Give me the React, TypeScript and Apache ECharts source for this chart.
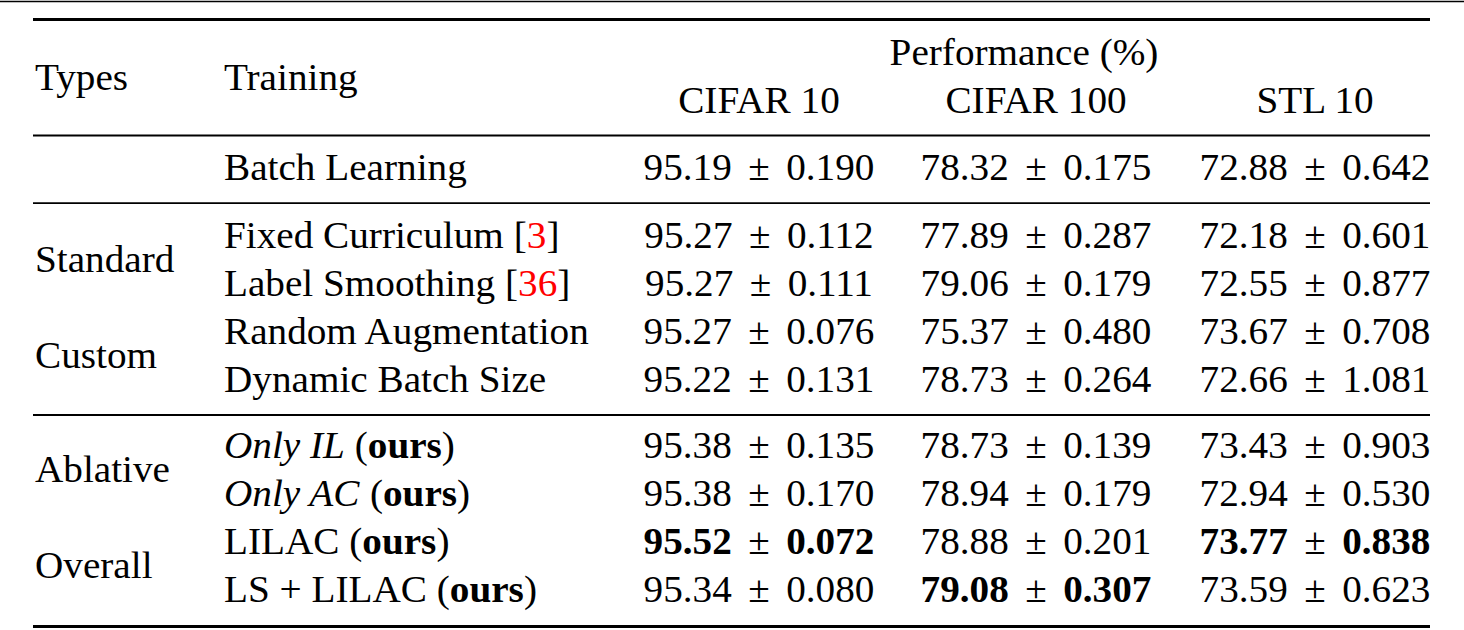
import React, { useEffect, useRef } from 'react';
import * as echarts from 'echarts';

const superHeader = 'Performance (%)';
const typeHeader = 'Types';
const trainingHeader = 'Training';
const datasets = ['CIFAR 10', 'CIFAR 100', 'STL 10'];
const groupLabels = ['Standard', 'Custom', 'Ablative', 'Overall'];

const trainingNames = ['Batch Learning', 'Fixed Curriculum', 'Label Smoothing', 'Random Augmentation', 'Dynamic Batch Size', 'Only IL', 'Only AC', 'LILAC', 'LS + LILAC'];
const trainingItalic = [false, false, false, false, false, true, true, false, false];
const trainingCitations = ['', '3', '36', '', '', '', '', '', ''];
const trainingOurs = [false, false, false, false, false, true, true, true, true];

const cifar10Mean = ['95.19', '95.27', '95.27', '95.27', '95.22', '95.38', '95.38', '95.52', '95.34'];
const cifar10Std = ['0.190', '0.112', '0.111', '0.076', '0.131', '0.135', '0.170', '0.072', '0.080'];
const cifar100Mean = ['78.32', '77.89', '79.06', '75.37', '78.73', '78.73', '78.94', '78.88', '79.08'];
const cifar100Std = ['0.175', '0.287', '0.179', '0.480', '0.264', '0.139', '0.179', '0.201', '0.307'];
const stl10Mean = ['72.88', '72.18', '72.55', '73.67', '72.66', '73.43', '72.94', '73.77', '73.59'];
const stl10Std = ['0.642', '0.601', '0.877', '0.708', '1.081', '0.903', '0.530', '0.838', '0.623'];
const bestRow = [7, 8, 7];

const FF = 'Liberation Serif';
const FS = 37;
const SX = 1.06;

export default function App() {
  const ref = useRef<HTMLDivElement>(null);
  useEffect(() => {
    document.body.style.margin = '0';
    if (!ref.current) return;
    const chart = echarts.init(ref.current, null, { renderer: 'svg' });

    const tok = (extra: any) => ({ fontSize: FS, fontFamily: FF, fill: '#000', ...extra });
    const rich = {
      n: tok({}),
      i: tok({ fontStyle: 'italic' }),
      b: tok({ fontWeight: 'bold' }),
      r: tok({ fill: '#ff0000' }),
      p: tok({ padding: [0, 15.5, 0, 15.5] }),
    };

    const txt = (x: number, y: number, text: string, align = 'left') => ({
      type: 'text',
      x,
      y,
      scaleX: SX,
      style: {
        text,
        rich,
        fontSize: FS,
        fontFamily: FF,
        fill: '#000',
        textAlign: align,
        align,
        textVerticalAlign: 'middle',
        verticalAlign: 'middle',
      },
    });

    const line = (y: number, w: number, x1 = 33, x2 = 1430) => ({
      type: 'line',
      shape: { x1, y1: y, x2, y2: y },
      style: { stroke: '#000', lineWidth: w },
    });

    const rowY = [167.5, 235.5, 283.5, 331.5, 379.5, 445.5, 493.5, 541.5, 589.5];
    const groupY = [259.5, 355.5, 469.5, 565.5];
    const colX = [759, 1036, 1315];
    const means = [cifar10Mean, cifar100Mean, stl10Mean];
    const stds = [cifar10Std, cifar100Std, stl10Std];

    const elements: any[] = [];
    elements.push(line(1.5, 1.5, 0, 1464));
    elements.push(line(19.5, 3));
    elements.push(line(135.5, 1.8));
    elements.push(line(203.2, 1.8));
    elements.push(line(415, 1.8));
    elements.push(line(626.5, 3));

    elements.push(txt(35, 77.5, typeHeader));
    elements.push(txt(224, 77.5, trainingHeader));
    elements.push(txt(1024, 52.5, superHeader, 'center'));
    datasets.forEach((d, k) => elements.push(txt(colX[k], 100.5, d, 'center')));

    groupLabels.forEach((g, k) => elements.push(txt(35, groupY[k], g)));

    trainingNames.forEach((name, r) => {
      let s = trainingItalic[r] ? `{i|${name}}` : name;
      if (trainingCitations[r]) s += ` [{r|${trainingCitations[r]}}]`;
      if (trainingOurs[r]) s += ' ({b|ours})';
      elements.push(txt(224, rowY[r], s));
      for (let k = 0; k < 3; k++) {
        const st = bestRow[k] === r ? 'b' : 'n';
        const s2 = `{${st}|${means[k][r]}}{p|±}{${st}|${stds[k][r]}}`;
        elements.push(txt(colX[k], rowY[r], s2, 'center'));
      }
    });

    chart.setOption({ animation: false, graphic: { elements } });
    return () => chart.dispose();
  }, []);
  return <div ref={ref} style={{ width: 1464, height: 630, background: '#fff' }} />;
}
